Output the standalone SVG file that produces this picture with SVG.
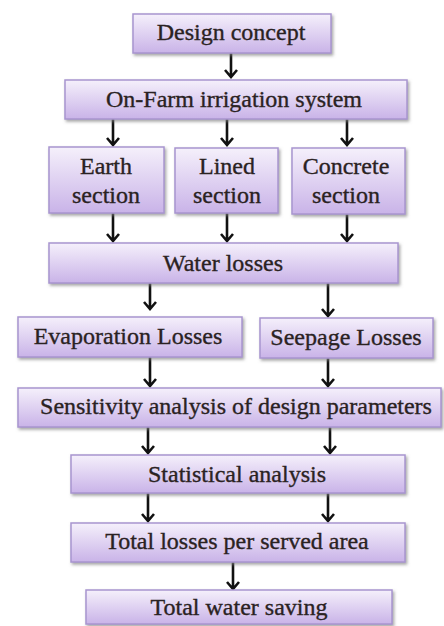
<svg xmlns="http://www.w3.org/2000/svg" width="444" height="626" viewBox="0 0 444 626">
<defs>
<linearGradient id="g" x1="0" y1="0" x2="0" y2="1">
<stop offset="0" stop-color="#f5f0fb"/>
<stop offset="1" stop-color="#c9b3e8"/>
</linearGradient>
<filter id="sh" x="-10%" y="-20%" width="125%" height="150%">
<feDropShadow dx="1.5" dy="2" stdDeviation="1.5" flood-color="#808080" flood-opacity="0.7"/>
</filter>
</defs>
<style>
.b{fill:url(#g);stroke:#a895cf;stroke-width:1.5;filter:url(#sh)}
text{font-family:"Liberation Serif","Times New Roman",serif;font-size:24px;fill:#2a2222;stroke:#2a2222;stroke-width:0.35;text-anchor:middle}
.c{fill:none;stroke:#111;stroke-width:2.6;stroke-linejoin:miter}
</style>
<rect width="444" height="626" fill="#fff"/>
<g id="connectors">
<path class="c" d="M231,53V77M225,70L231,77L237,70"/>
<path class="c" d="M113,119V145M107,138L113,145L119,138"/>
<path class="c" d="M227,119V145M221,138L227,145L233,138"/>
<path class="c" d="M347,119V145M341,138L347,145L353,138"/>
<path class="c" d="M113,213V241M107,234L113,241L119,234"/>
<path class="c" d="M227,213V241M221,234L227,241L233,234"/>
<path class="c" d="M347,213V241M341,234L347,241L353,234"/>
<path class="c" d="M150,283V309M144,302L150,309L156,302"/>
<path class="c" d="M328,283V316M322,309L328,316L334,309"/>
<path class="c" d="M150,357V386M144,379L150,386L156,379"/>
<path class="c" d="M328,358V386M322,379L328,386L334,379"/>
<path class="c" d="M148,427V453M142,446L148,453L154,446"/>
<path class="c" d="M330,427V453M324,446L330,453L336,446"/>
<path class="c" d="M148,493V521M142,514L148,521L154,514"/>
<path class="c" d="M328,493V521M322,514L328,521L334,514"/>
<path class="c" d="M233,562V589M227,582L233,589L239,582"/>
</g>
<g id="design-concept"><rect class="b" x="133" y="14" width="198" height="39"/><text x="231" y="40">Design concept</text></g>
<g id="on-farm"><rect class="b" x="65" y="80" width="342" height="39"/><text x="234" y="107">On-Farm irrigation system</text></g>
<g id="earth"><rect class="b" x="49" y="147" width="115" height="66"/><text x="106" y="174">Earth</text><text x="106" y="203">section</text></g>
<g id="lined"><rect class="b" x="175" y="148" width="103" height="65"/><text x="227" y="174">Lined</text><text x="227" y="203">section</text></g>
<g id="concrete"><rect class="b" x="292" y="148" width="113" height="66"/><text x="346" y="174">Concrete</text><text x="346" y="203">section</text></g>
<g id="water-losses"><rect class="b" x="49" y="243" width="349" height="40"/><text x="223" y="271">Water losses</text></g>
<g id="evaporation"><rect class="b" x="18" y="317" width="224" height="40"/><text x="128" y="344">Evaporation Losses</text></g>
<g id="seepage"><rect class="b" x="260" y="318" width="173" height="40"/><text x="346" y="345">Seepage Losses</text></g>
<g id="sensitivity"><rect class="b" x="18" y="388" width="423" height="39"/><text x="236" y="414">Sensitivity analysis of design parameters</text></g>
<g id="statistical"><rect class="b" x="71" y="455" width="334" height="38"/><text x="237" y="482">Statistical analysis</text></g>
<g id="total-losses"><rect class="b" x="71" y="523" width="334" height="39"/><text x="237" y="549">Total losses per served area</text></g>
<g id="total-saving"><rect class="b" x="86" y="590" width="306" height="34"/><text x="239" y="615">Total water saving</text></g>
</svg>
